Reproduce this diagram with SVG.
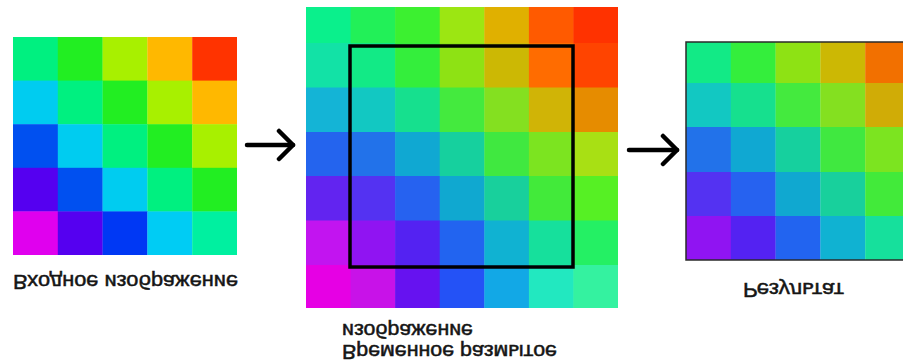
<svg xmlns="http://www.w3.org/2000/svg" width="903" height="364" viewBox="0 0 903 364">
<style>
  .lbl { font-family: "Liberation Sans", Arial, sans-serif; font-size: 20px; fill: #151515; stroke: #151515; stroke-width: 0.5; }
  .arrow { stroke: #000; stroke-width: 4.5; fill: none; stroke-linecap: round; stroke-linejoin: round; }
  .frame { fill: none; stroke: #000; stroke-width: 3.5; }
  .border { fill: none; stroke: #2a2a2a; stroke-width: 1.5; }
</style>
<defs>
  <marker id="chev" markerUnits="userSpaceOnUse" viewBox="0 0 22 34" refX="18" refY="17" markerWidth="22" markerHeight="34" orient="auto">
    <path d="M4,3 L18,17 L4,31" fill="none" stroke="#000" stroke-width="4.5" stroke-linecap="round" stroke-linejoin="round"/>
  </marker>
</defs>
<rect width="903" height="364" fill="#fff"/>

<g id="input-image">
  <rect x="13" y="37" width="45" height="44" fill="#00F080"/>
  <rect x="57.8" y="37" width="45" height="44" fill="#22EE22"/>
  <rect x="102.6" y="37" width="45" height="44" fill="#A8F000"/>
  <rect x="147.4" y="37" width="45" height="44" fill="#FFB800"/>
  <rect x="192.2" y="37" width="44.8" height="44" fill="#FF3300"/>
  <rect x="13" y="80.6" width="45" height="44" fill="#00CCF0"/>
  <rect x="57.8" y="80.6" width="45" height="44" fill="#00F080"/>
  <rect x="102.6" y="80.6" width="45" height="44" fill="#22EE22"/>
  <rect x="147.4" y="80.6" width="45" height="44" fill="#A8F000"/>
  <rect x="192.2" y="80.6" width="44.8" height="44" fill="#FFB800"/>
  <rect x="13" y="124.2" width="45" height="44" fill="#0050F0"/>
  <rect x="57.8" y="124.2" width="45" height="44" fill="#00CCF0"/>
  <rect x="102.6" y="124.2" width="45" height="44" fill="#00F080"/>
  <rect x="147.4" y="124.2" width="45" height="44" fill="#22EE22"/>
  <rect x="192.2" y="124.2" width="44.8" height="44" fill="#A8F000"/>
  <rect x="13" y="167.8" width="45" height="44" fill="#5500F0"/>
  <rect x="57.8" y="167.8" width="45" height="44" fill="#0050F0"/>
  <rect x="102.6" y="167.8" width="45" height="44" fill="#00CCF0"/>
  <rect x="147.4" y="167.8" width="45" height="44" fill="#00F080"/>
  <rect x="192.2" y="167.8" width="44.8" height="44" fill="#22EE22"/>
  <rect x="13" y="211.4" width="45" height="43.6" fill="#E000EE"/>
  <rect x="57.8" y="211.4" width="45" height="43.6" fill="#5500F0"/>
  <rect x="102.6" y="211.4" width="45" height="43.6" fill="#0038F4"/>
  <rect x="147.4" y="211.4" width="45" height="43.6" fill="#00CCF4"/>
  <rect x="192.2" y="211.4" width="44.8" height="43.6" fill="#00F0A0"/>
  <text class="lbl" transform="translate(13,275) scale(1,-1)" textLength="225" lengthAdjust="spacingAndGlyphs">Входное изображение</text>
</g>

<g id="blurred-image">
  <rect x="306" y="7" width="45" height="36.5" fill="#0AF08C"/>
  <rect x="350.6" y="7" width="45" height="36.5" fill="#22F058"/>
  <rect x="395.1" y="7" width="45" height="36.5" fill="#3CF030"/>
  <rect x="439.7" y="7" width="45" height="36.5" fill="#9CE612"/>
  <rect x="484.3" y="7" width="45" height="36.5" fill="#E0B000"/>
  <rect x="528.9" y="7" width="45" height="36.5" fill="#FF5A00"/>
  <rect x="573.4" y="7" width="44.6" height="36.5" fill="#FF3200"/>
  <rect x="306" y="43" width="45" height="45" fill="#12E2A6"/>
  <rect x="350.6" y="43" width="45" height="45" fill="#12EA86"/>
  <rect x="395.1" y="43" width="45" height="45" fill="#34EE3C"/>
  <rect x="439.7" y="43" width="45" height="45" fill="#8EE214"/>
  <rect x="484.3" y="43" width="45" height="45" fill="#CCB804"/>
  <rect x="528.9" y="43" width="45" height="45" fill="#FF6C00"/>
  <rect x="573.4" y="43" width="44.6" height="45" fill="#FF4400"/>
  <rect x="306" y="87.5" width="45" height="45" fill="#14B4D6"/>
  <rect x="350.6" y="87.5" width="45" height="45" fill="#12C8C2"/>
  <rect x="395.1" y="87.5" width="45" height="45" fill="#16E08E"/>
  <rect x="439.7" y="87.5" width="45" height="45" fill="#44EA3E"/>
  <rect x="484.3" y="87.5" width="45" height="45" fill="#84E020"/>
  <rect x="528.9" y="87.5" width="45" height="45" fill="#D0B406"/>
  <rect x="573.4" y="87.5" width="44.6" height="45" fill="#E68C00"/>
  <rect x="306" y="132" width="45" height="44.5" fill="#2464EE"/>
  <rect x="350.6" y="132" width="45" height="44.5" fill="#2272EA"/>
  <rect x="395.1" y="132" width="45" height="44.5" fill="#10A8D2"/>
  <rect x="439.7" y="132" width="45" height="44.5" fill="#16D09E"/>
  <rect x="484.3" y="132" width="45" height="44.5" fill="#40E840"/>
  <rect x="528.9" y="132" width="45" height="44.5" fill="#7CE420"/>
  <rect x="573.4" y="132" width="44.6" height="44.5" fill="#A8E014"/>
  <rect x="306" y="176" width="45" height="45" fill="#6224F0"/>
  <rect x="350.6" y="176" width="45" height="45" fill="#5432F2"/>
  <rect x="395.1" y="176" width="45" height="45" fill="#2662F0"/>
  <rect x="439.7" y="176" width="45" height="45" fill="#10A8D0"/>
  <rect x="484.3" y="176" width="45" height="45" fill="#18D09C"/>
  <rect x="528.9" y="176" width="45" height="45" fill="#42EA3A"/>
  <rect x="573.4" y="176" width="44.6" height="45" fill="#56F024"/>
  <rect x="306" y="220.5" width="45" height="45" fill="#C214F0"/>
  <rect x="350.6" y="220.5" width="45" height="45" fill="#9014F2"/>
  <rect x="395.1" y="220.5" width="45" height="45" fill="#5422F2"/>
  <rect x="439.7" y="220.5" width="45" height="45" fill="#2264F0"/>
  <rect x="484.3" y="220.5" width="45" height="45" fill="#10B2D2"/>
  <rect x="528.9" y="220.5" width="45" height="45" fill="#16E09C"/>
  <rect x="573.4" y="220.5" width="44.6" height="45" fill="#24F064"/>
  <rect x="306" y="265" width="45" height="43" fill="#E600E4"/>
  <rect x="350.6" y="265" width="45" height="43" fill="#C812E8"/>
  <rect x="395.1" y="265" width="45" height="43" fill="#6612F0"/>
  <rect x="439.7" y="265" width="45" height="43" fill="#2452F6"/>
  <rect x="484.3" y="265" width="45" height="43" fill="#12A8E6"/>
  <rect x="528.9" y="265" width="45" height="43" fill="#22E8C0"/>
  <rect x="573.4" y="265" width="44.6" height="43" fill="#34F2A0"/>
  <rect class="frame" x="350" y="46" width="223" height="221"/>
  <text class="lbl" transform="translate(342,324) scale(1,-1)" textLength="131" lengthAdjust="spacingAndGlyphs">изображение</text>
  <text class="lbl" transform="translate(342,345) scale(1,-1)" textLength="215" lengthAdjust="spacingAndGlyphs">Временное размытое</text>
</g>

<g id="result-image">
  <rect x="686" y="42" width="45" height="41.5" fill="#12EA86"/>
  <rect x="730.8" y="42" width="45" height="41.5" fill="#34EE3C"/>
  <rect x="775.6" y="42" width="45" height="41.5" fill="#8EE214"/>
  <rect x="820.4" y="42" width="45" height="41.5" fill="#CCB804"/>
  <rect x="865.2" y="42" width="45" height="41.5" fill="#F27000"/>
  <rect x="686" y="83" width="45" height="44.5" fill="#12C8C2"/>
  <rect x="730.8" y="83" width="45" height="44.5" fill="#16E08E"/>
  <rect x="775.6" y="83" width="45" height="44.5" fill="#44EA3E"/>
  <rect x="820.4" y="83" width="45" height="44.5" fill="#84E020"/>
  <rect x="865.2" y="83" width="45" height="44.5" fill="#D0AC06"/>
  <rect x="686" y="127" width="45" height="45.5" fill="#2272EA"/>
  <rect x="730.8" y="127" width="45" height="45.5" fill="#10A8D2"/>
  <rect x="775.6" y="127" width="45" height="45.5" fill="#16D09E"/>
  <rect x="820.4" y="127" width="45" height="45.5" fill="#40E840"/>
  <rect x="865.2" y="127" width="45" height="45.5" fill="#7CE420"/>
  <rect x="686" y="172" width="45" height="44.5" fill="#5432F2"/>
  <rect x="730.8" y="172" width="45" height="44.5" fill="#2662F0"/>
  <rect x="775.6" y="172" width="45" height="44.5" fill="#10A8D0"/>
  <rect x="820.4" y="172" width="45" height="44.5" fill="#18D09C"/>
  <rect x="865.2" y="172" width="45" height="44.5" fill="#42EA3A"/>
  <rect x="686" y="216" width="45" height="44" fill="#9014F2"/>
  <rect x="730.8" y="216" width="45" height="44" fill="#5422F2"/>
  <rect x="775.6" y="216" width="45" height="44" fill="#2264F0"/>
  <rect x="820.4" y="216" width="45" height="44" fill="#10B2D2"/>
  <rect x="865.2" y="216" width="45" height="44" fill="#16E09C"/>
  <rect class="border" x="686" y="42" width="230" height="218"/>
  <text class="lbl" transform="translate(743,283) scale(1,-1)" textLength="101" lengthAdjust="spacingAndGlyphs">Результат</text>
</g>

<g id="connectors">
  <path class="arrow" d="M247,145 H293" marker-end="url(#chev)"/>
  <path class="arrow" d="M629,150 H677" marker-end="url(#chev)"/>
</g>
</svg>
